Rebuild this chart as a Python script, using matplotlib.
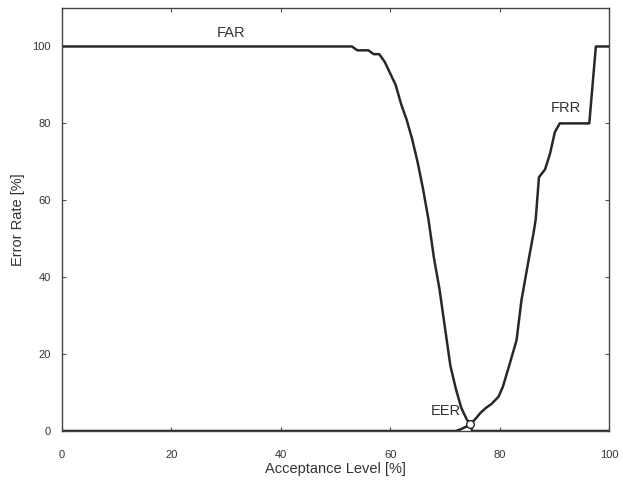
import matplotlib
matplotlib.use("Agg")
import matplotlib.pyplot as plt

plt.rcParams['font.family'] = ['Liberation Sans', 'DejaVu Sans']

# FAR curve (acceptance level vs error rate)
far_x = [0, 53, 54, 56, 57, 58, 59, 60, 61, 62, 63, 64, 65, 66, 67, 68, 69, 70, 71, 72, 73, 74, 74.6, 75, 100]
far_y = [100, 100, 99, 99, 98, 98, 96, 93, 90, 85, 81, 76, 70, 63, 55, 45, 37, 27, 17, 11, 6, 3, 1.8, 0, 0]

# FRR curve
frr_x = [0, 72, 73, 74, 74.6, 75.5, 76.5, 77.5, 78.5, 79.8, 80.6, 81.9, 83.1, 84, 85.3, 86.2, 86.6, 87.2, 88.3, 89.2, 90.1, 91, 96.4, 97.6, 100]
frr_y = [0, 0, 0.5, 1.2, 1.8, 3, 4.7, 6, 7, 8.9, 11.5, 17.7, 23.6, 34, 44.4, 51.4, 55, 66, 68, 72, 77.7, 80, 80, 100, 100]

eer_x, eer_y = 74.6, 1.8

line_col = '#25292d'
txt_col = '#333333'

fig = plt.figure(figsize=(6.23, 4.86), dpi=100)
ax = fig.add_axes([0.0995, 0.1132, 0.878, 0.8703])

ax.plot(far_x, far_y, color=line_col, lw=1.8, solid_joinstyle='round')
ax.plot(frr_x, frr_y, color=line_col, lw=1.8, solid_joinstyle='round')
ax.plot([eer_x], [eer_y], 'o', ms=5.5, mfc='white', mec=line_col, mew=1.0)

ax.text(31, 103.6, 'FAR', fontsize=10.5, color=txt_col, ha='center', va='center')
ax.text(92.1, 84, 'FRR', fontsize=10.5, color=txt_col, ha='center', va='center')
ax.text(70.2, 5.2, 'EER', fontsize=10.5, color=txt_col, ha='center', va='center')

ax.set_xlim(0, 100)
ax.set_ylim(0, 110)
ax.set_xticks([0, 20, 40, 60, 80, 100])
ax.set_yticks([0, 20, 40, 60, 80, 100])
ax.tick_params(direction='in', length=3, width=0.8, colors='#555555',
               labelcolor=txt_col, labelsize=8, top=True, right=True)
ax.tick_params(axis='x', pad=14)
ax.tick_params(axis='y', pad=8)
for s in ax.spines.values():
    s.set_color('#444444')
    s.set_linewidth(1.0)

ax.set_xlabel('Acceptance Level [%]', fontsize=10.5, color=txt_col, labelpad=1)
ax.set_ylabel('Error Rate [%]', fontsize=10.5, color=txt_col, labelpad=5)

fig.savefig('out.png', dpi=100)
